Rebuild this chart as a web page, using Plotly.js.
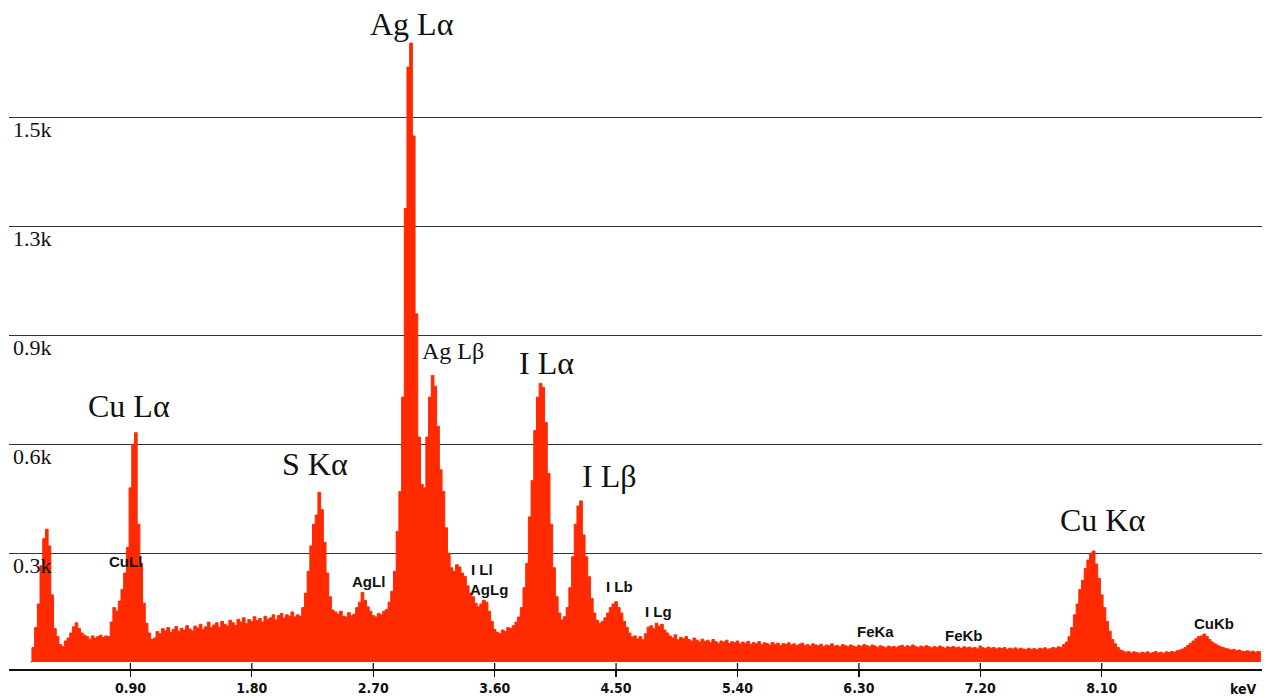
<!DOCTYPE html>
<html>
<head>
<meta charset="utf-8">
<script src="https://cdn.plot.ly/plotly-3.0.1.min.js"></script>
<style>html,body{margin:0;padding:0;background:#fff;}#chart{width:1269px;height:698px;}</style>
</head>
<body>
<div id="chart"></div>
<script>
// EDS spectrum: channel calibration (keV) and counts per channel
const channelStart = 0.16;
const channelWidth = 0.02;
const counts = [
0,40,95,160,265,340,366,320,185,92,70,48,42,58,66,80,97,108,92,80,
74,70,63,72,66,70,74,68,72,70,110,150,140,168,200,245,316,480,600,632,
380,272,162,107,80,62,66,84,78,92,86,95,82,90,98,85,93,88,100,91,
86,99,94,104,90,97,110,95,102,108,96,112,104,99,115,108,101,118,110,122,
106,117,112,125,114,120,110,126,118,122,130,116,128,134,121,130,126,138,124,130,
126,150,190,250,320,380,405,468,420,330,245,180,143,138,132,140,126,124,136,128,
132,150,165,192,170,152,140,128,124,134,130,140,145,165,195,250,360,470,730,1250,
1640,1706,1450,960,620,490,480,620,730,790,760,650,530,470,370,300,260,250,268,262,
245,236,210,190,180,162,152,160,170,165,140,112,90,82,78,88,84,95,92,100,
110,124,150,205,272,400,500,638,730,768,757,660,520,380,260,180,135,116,125,150,
205,290,380,430,444,350,290,235,175,135,115,107,112,122,135,150,160,166,150,135,
112,96,80,69,72,64,70,61,78,96,100,92,107,98,104,88,80,72,66,75,
61,68,64,70,62,58,66,60,55,63,57,60,54,62,56,52,58,55,60,51,
56,53,58,50,55,52,57,49,54,50,56,48,53,51,47,54,49,52,46,51,
48,53,47,50,45,49,52,46,48,44,50,47,45,49,43,47,45,50,44,46,
42,48,45,43,47,44,41,46,43,48,45,42,47,44,40,45,42,39,44,41,
43,40,44,46,41,45,42,47,43,40,44,41,45,42,39,43,40,44,41,38,
42,40,43,39,41,37,42,39,41,38,40,36,44,39,37,41,38,40,36,39,
37,40,35,38,36,39,35,38,36,34,38,35,37,34,38,36,39,35,37,40,
38,42,40,48,55,70,95,130,160,200,225,258,281,300,306,270,230,185,150,112,
85,62,50,40,33,30,27,29,25,28,26,24,27,25,28,24,26,29,25,27,
24,28,26,29,27,31,33,36,40,46,52,58,64,70,72,77,70,62,55,50,
46,42,40,37,36,33,35,31,33,30,29,31,28,30,27,29,28
];
const energies = counts.map((_, i) => +(channelStart + i * channelWidth).toFixed(2));

// axis ticks and gridlines
const xTickVals = [0.9, 1.8, 2.7, 3.6, 4.5, 5.4, 6.3, 7.2, 8.1];
const xTickText = ['0.90', '1.80', '2.70', '3.60', '4.50', '5.40', '6.30', '7.20', '8.10'];
const yGridVals = [300, 600, 900, 1200, 1500, 1800];
const yLabelVals = [300, 600, 900, 1200, 1500];
const yLabelText = ['0.3k', '0.6k', '0.9k', '1.3k', '1.5k'];

// line identifications
const majorLabels = ['Cu Lα', 'S Kα', 'Ag Lα', 'Ag Lβ', 'I Lα', 'I Lβ', 'Cu Kα'];
const majorLabelE = [0.893, 2.268, 2.984, 3.291, 3.984, 4.451, 8.106];
const majorLabelC = [706, 546, 1759, 857, 824, 513, 391];
const majorLabelSize = [32, 32, 32, 24, 32, 32, 32];
const minorLabels = ['CuLl', 'AgLl', 'I Ll', 'AgLg', 'I Lb', 'I Lg', 'FeKa', 'FeKb', 'CuKb'];
const minorLabelE = [0.860, 2.665, 3.506, 3.558, 4.529, 4.818, 6.423, 7.076, 8.933];
const minorLabelC = [278, 223, 254, 201, 207, 138, 83, 72, 105];

const trace = {
  x: energies, y: counts, type: 'scatter', mode: 'lines',
  line: {shape: 'hvh', color: '#FF2A00', width: 1},
  fill: 'tozeroy', fillcolor: '#FF2A00', hoverinfo: 'x+y'
};

const annotations = [];
yLabelVals.forEach((v, i) => annotations.push({
  x: 0.015, y: v - 33, xref: 'x', yref: 'y', xanchor: 'left', yanchor: 'middle',
  text: yLabelText[i], showarrow: false,
  font: {family: 'Liberation Serif, Times New Roman, serif', size: 22, color: '#111'}
}));
majorLabels.forEach((t, i) => annotations.push({
  x: majorLabelE[i], y: majorLabelC[i], xref: 'x', yref: 'y', xanchor: 'center', yanchor: 'middle',
  text: t, showarrow: false,
  font: {family: 'Liberation Serif, Times New Roman, serif', size: majorLabelSize[i], color: '#111'}
}));
minorLabels.forEach((t, i) => annotations.push({
  x: minorLabelE[i], y: minorLabelC[i], xref: 'x', yref: 'y', xanchor: 'center', yanchor: 'middle',
  text: t, showarrow: false,
  font: {family: 'Liberation Sans, Arial, sans-serif', size: 15, color: '#111', weight: 'bold'}
}));
annotations.push({
  x: 9.148, y: -0.03, xref: 'x', yref: 'paper', xanchor: 'center', yanchor: 'middle',
  text: 'keV', showarrow: false,
  font: {family: 'Liberation Sans Narrow, DejaVu Sans Condensed, Liberation Sans, sans-serif', size: 14, color: '#111', weight: 'bold'}
});

const shapes = xTickVals.map(v => ({
  type: 'line', xref: 'x', yref: 'paper', x0: v, x1: v, y0: 0, y1: 0.009,
  line: {color: '#111', width: 1.3}
}));

const layout = {
  width: 1269, height: 698,
  margin: {l: 9, r: 7, t: 9, b: 29},
  paper_bgcolor: '#fff', plot_bgcolor: '#fff',
  showlegend: false,
  xaxis: {
    range: [0, 9.288], tickvals: xTickVals, ticktext: xTickText,
    ticks: 'outside', ticklen: 6, tickwidth: 1.3, tickcolor: '#111',
    showline: true, linecolor: '#111', linewidth: 1.5,
    showgrid: false, zeroline: false,
    tickfont: {family: 'Liberation Sans Narrow, DejaVu Sans Condensed, Liberation Sans, sans-serif', size: 14, color: '#111', weight: 'bold'}
  },
  yaxis: {
    range: [-19.3, 1800], tickvals: yGridVals, showticklabels: false,
    showgrid: true, gridcolor: '#333', gridwidth: 1.3,
    zeroline: false, showline: false, ticks: ''
  },
  annotations: annotations,
  shapes: shapes
};

Plotly.newPlot('chart', [trace], layout, {displayModeBar: false, staticPlot: true});
</script>
</body>
</html>
